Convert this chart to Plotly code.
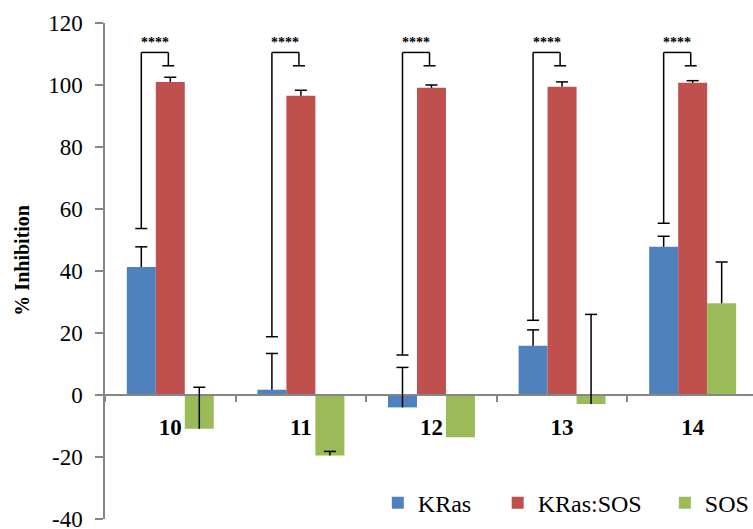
import plotly.graph_objects as go

categories = ["10", "11", "12", "13", "14"]
kras = [41.3, 1.7, -4.0, 15.9, 47.8]
kras_err = [6.5, 11.7, 12.9, 5.1, 3.4]
kras_sos = [101.0, 96.5, 99.1, 99.4, 100.7]
kras_sos_err = [1.5, 1.8, 0.9, 1.6, 0.7]
sos = [-10.9, -19.5, -13.6, -2.9, 29.6]
sos_err = [13.4, 1.3, None, 28.9, 13.3]
bracket_low = [53.7, 18.8, 12.9, 24.1, 55.4]
bracket_top = [110.5, 110.5, 110.5, 110.5, 110.5]
bracket_high = [106.2, 106.2, 106.2, 106.2, 106.2]
sig_labels = ["****", "****", "****", "****", "****"]
y_ticks = [-40, -20, 0, 20, 40, 60, 80, 100, 120]
y_tick_text = ["-40", "-20", "0", "20", "40", "60", "80", "100", "120"]

BLUE, RED, GREEN = "#4F81BD", "#C0504D", "#9BBB59"
AXIS = "#868686"
SERIF = "Liberation Serif, Times New Roman, serif"

bargap = 0.334
bw = (1 - bargap) / 3
cap = 0.046
line = dict(color="black", width=1.5)

fig = go.Figure()
shapes = []
annotations = []


def add(name, vals, errs, color, legend, offset):
    fig.add_trace(go.Bar(
        name=name, x=categories, y=vals, marker=dict(color=color, line=dict(width=0)),
        legend=legend, showlegend=True,
    ))
    # one-sided (plus) error bars, as in the original: a line from the bar end and a cap at the top
    for i, (v, e) in enumerate(zip(vals, errs)):
        if e is None:
            continue
        xc = i + offset
        shapes.append(dict(type="line", xref="x", yref="y", x0=xc, x1=xc, y0=v, y1=v + e, line=line))
        shapes.append(dict(type="line", xref="x", yref="y", x0=xc - cap, x1=xc + cap,
                           y0=v + e, y1=v + e, line=line))


add("KRas", kras, kras_err, BLUE, "legend", -bw)
add("KRas:SOS", kras_sos, kras_sos_err, RED, "legend2", 0)
add("SOS", sos, sos_err, GREEN, "legend3", bw)

for i in range(len(categories)):
    xl = i - bw
    xr = i - 0.015
    shapes += [
        dict(type="line", xref="x", yref="y", x0=xl, x1=xl, y0=bracket_low[i], y1=bracket_top[i], line=line),
        dict(type="line", xref="x", yref="y", x0=xl, x1=xr, y0=bracket_top[i], y1=bracket_top[i], line=line),
        dict(type="line", xref="x", yref="y", x0=xr, x1=xr, y0=bracket_top[i], y1=bracket_high[i], line=line),
        dict(type="line", xref="x", yref="y", x0=xl - cap, x1=xl + cap, y0=bracket_low[i], y1=bracket_low[i], line=line),
        dict(type="line", xref="x", yref="y", x0=xr - cap, x1=xr + cap, y0=bracket_high[i], y1=bracket_high[i], line=line),
    ]
    annotations.append(dict(x=(xl + xr) / 2, y=bracket_top[i], xref="x", yref="y",
                            text=sig_labels[i], showarrow=False, yanchor="bottom", yshift=0,
                            font=dict(family=SERIF, size=14, color="black", weight="bold")))

annotations.append(dict(x=-0.128, y=0.521, xref="paper", yref="paper", text="% Inhibition",
                        textangle=-90, showarrow=False, xanchor="center", yanchor="middle",
                        font=dict(family=SERIF, size=20, color="black", weight="bold")))

leg = dict(orientation="h", xanchor="left", yanchor="middle", y=0.032,
           font=dict(family=SERIF, size=24, color="black"), bgcolor="rgba(0,0,0,0)",
           itemclick=False)
fig.update_layout(
    width=753, height=529,
    margin=dict(l=105, r=0, t=23, b=10, autoexpand=False),
    paper_bgcolor="white", plot_bgcolor="white",
    showlegend=True,
    barmode="group", bargap=bargap, bargroupgap=0,
    shapes=shapes, annotations=annotations,
    legend=dict(leg, x=0.421),
    legend2=dict(leg, x=0.606),
    legend3=dict(leg, x=0.864),
    xaxis=dict(type="category", range=[-0.5, 4.462], anchor="free", position=0.25,
               showline=True, linecolor=AXIS, linewidth=1.5,
               ticks="outside", tickson="boundaries", ticklen=6, tickcolor=AXIS, tickwidth=1.5,
               tickfont=dict(family=SERIF, size=23, color="black", weight="bold"),
               ticklabelstandoff=12, showgrid=False, zeroline=False),
    yaxis=dict(range=[-40, 120], tickvals=y_ticks, ticktext=y_tick_text,
               showline=True, linecolor=AXIS, linewidth=1.5,
               ticks="outside", ticklen=8, tickcolor=AXIS, tickwidth=1.5,
               tickfont=dict(family=SERIF, size=23, color="black"),
               ticklabelstandoff=8, ticklabeloverflow="allow", showgrid=False, zeroline=False),
)

fig.write_html("out.html", config={"displayModeBar": False},
               post_script="document.body.style.margin='0';document.body.style.overflow='hidden';")
